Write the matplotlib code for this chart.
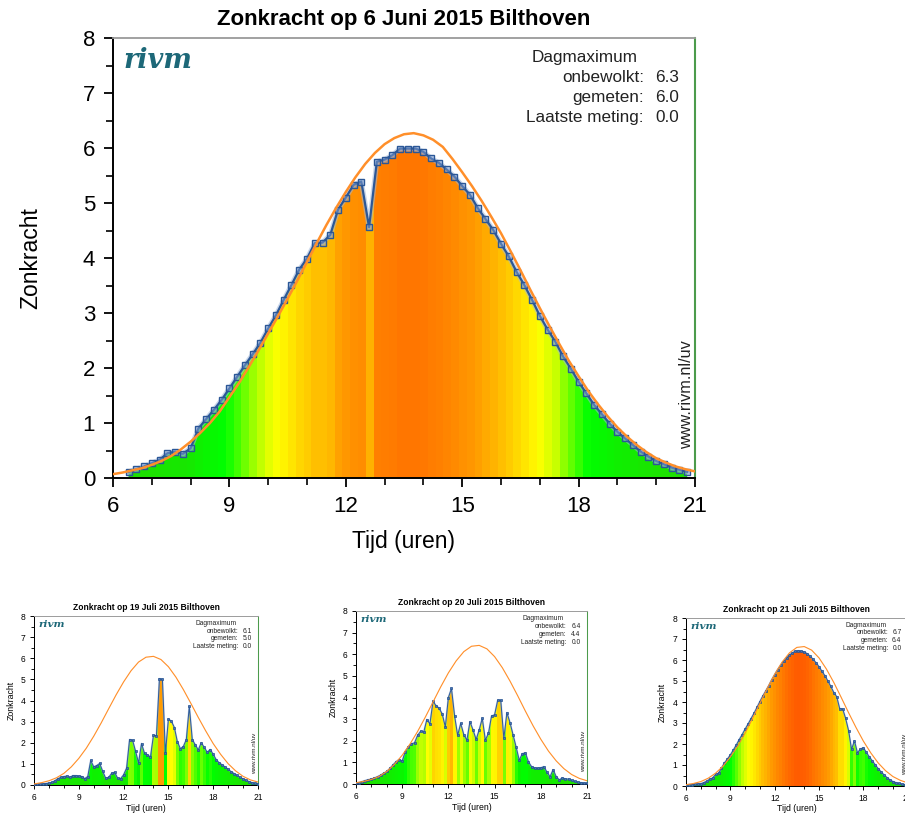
import numpy as np
import matplotlib
matplotlib.use("Agg")
import matplotlib.pyplot as plt
from matplotlib.colors import LinearSegmentedColormap
from matplotlib.ticker import MultipleLocator

plt.rcParams['font.family'] = ['Liberation Sans', 'DejaVu Sans']

# gemeten zonkracht, een meting per 12 minuten
juni6_tijd = np.round(np.arange(6.4, 20.81, 0.2), 2)
juni6_meting = [
    0.11, 0.16, 0.21, 0.27, 0.33, 0.45, 0.48, 0.44, 0.54, 0.90,
    1.07, 1.24, 1.42, 1.63, 1.84, 2.05, 2.25, 2.46, 2.72, 2.96,
    3.24, 3.51, 3.79, 3.99, 4.27, 4.28, 4.42, 4.88, 5.10, 5.33,
    5.39, 4.56, 5.75, 5.79, 5.87, 5.99, 5.99, 5.99, 5.93, 5.81,
    5.73, 5.61, 5.48, 5.31, 5.15, 4.91, 4.71, 4.51, 4.26, 4.03,
    3.75, 3.51, 3.24, 2.95, 2.70, 2.48, 2.21, 1.99, 1.75, 1.54,
    1.33, 1.16, 0.99, 0.84, 0.72, 0.60, 0.48, 0.39, 0.31, 0.25,
    0.19, 0.15, 0.11]

juli_tijd = np.round(np.arange(6.0, 21.01, 0.2), 2)
juli19_meting = [
    0.02, 0.03, 0.04, 0.05, 0.07, 0.09, 0.12, 0.20, 0.30, 0.36,
    0.40, 0.42, 0.36, 0.44, 0.44, 0.42, 0.40, 0.30, 0.40, 1.16,
    0.86, 0.92, 1.02, 0.65, 0.32, 0.36, 0.55, 0.60, 0.32, 0.30,
    0.48, 0.80, 2.15, 2.12, 1.60, 1.05, 1.96, 1.50, 1.42, 1.33,
    2.35, 2.34, 5.03, 5.00, 1.50, 3.12, 3.02, 2.72, 2.05, 1.72,
    1.82, 2.15, 3.72, 2.15, 1.90, 1.66, 2.00, 1.78, 1.55, 1.68,
    1.45, 1.20, 1.05, 0.95, 0.85, 0.74, 0.63, 0.54, 0.45, 0.36,
    0.29, 0.22, 0.16, 0.11, 0.08, 0.05]
juli20_meting = [
    0.03, 0.06, 0.11, 0.16, 0.20, 0.23, 0.28, 0.34, 0.41, 0.50,
    0.58, 0.72, 0.88, 1.03, 1.13, 1.06, 1.50, 1.72, 1.86, 1.90,
    2.25, 2.44, 2.40, 2.98, 2.78, 3.82, 3.62, 3.50, 3.24, 2.64,
    4.00, 4.42, 3.16, 2.25, 2.80, 2.28, 2.03, 2.88, 2.50, 2.06,
    2.50, 3.04, 2.03, 2.34, 3.14, 3.20, 3.87, 3.87, 2.11, 3.30,
    2.84, 2.27, 1.70, 1.10, 1.40, 1.44, 1.02, 0.80, 0.74, 0.73,
    0.75, 0.80, 0.55, 0.34, 0.66, 0.34, 0.19, 0.28, 0.23, 0.23,
    0.17, 0.12, 0.09, 0.06, 0.04, 0.03]
juli21_meting = [
    0.05, 0.06, 0.07, 0.08, 0.09, 0.11, 0.16, 0.23, 0.32, 0.38,
    0.55, 0.61, 0.85, 1.10, 1.28, 1.48, 1.71, 1.95, 2.21, 2.45,
    2.71, 2.95, 3.21, 3.46, 3.74, 4.02, 4.29, 4.53, 4.78, 5.06,
    5.30, 5.54, 5.74, 5.94, 6.10, 6.24, 6.34, 6.42, 6.44, 6.42,
    6.38, 6.30, 6.18, 6.03, 5.87, 5.68, 5.46, 5.25, 5.00, 4.74,
    4.45, 4.25, 3.68, 3.67, 3.22, 2.64, 1.75, 2.15, 1.58, 1.76,
    1.82, 1.60, 1.39, 1.20, 1.01, 0.83, 0.67, 0.53, 0.40, 0.29,
    0.21, 0.16, 0.12, 0.09, 0.07, 0.05]

# onbewolkte (clear sky) zonkracht
juni6_cs_tijd = np.arange(6.0, 21.01, 0.25)
juni6_cs = [
    0.07, 0.10, 0.14, 0.18, 0.24, 0.31, 0.40, 0.52, 0.66, 0.82,
    1.00, 1.21, 1.47, 1.73, 2.02, 2.32, 2.63, 2.94, 3.26, 3.59,
    3.93, 4.27, 4.60, 4.91, 5.20, 5.47, 5.71, 5.91, 6.07, 6.18,
    6.25, 6.27, 6.23, 6.15, 6.02, 5.80, 5.56, 5.31, 5.04, 4.75,
    4.45, 4.12, 3.78, 3.43, 3.09, 2.76, 2.44, 2.13, 1.85, 1.58,
    1.34, 1.12, 0.92, 0.75, 0.60, 0.47, 0.36, 0.28, 0.21, 0.16,
    0.12]
juli_cs_tijd = np.arange(6.0, 21.01, 0.5)
juli19_cs = [
    0.05, 0.11, 0.20, 0.34, 0.55, 0.86, 1.26, 1.74, 2.31, 2.94,
    3.61, 4.27, 4.88, 5.41, 5.82, 6.05, 6.09, 5.94, 5.60, 5.11,
    4.52, 3.87, 3.20, 2.56, 1.96, 1.45, 1.01, 0.67, 0.41, 0.24,
    0.14]
juli20_cs = [
    0.06, 0.12, 0.21, 0.35, 0.58, 0.91, 1.33, 1.84, 2.43, 3.09,
    3.79, 4.49, 5.14, 5.69, 6.12, 6.37, 6.41, 6.25, 5.89, 5.38,
    4.76, 4.08, 3.37, 2.69, 2.07, 1.52, 1.07, 0.71, 0.44, 0.26,
    0.15]
juli21_cs = [
    0.06, 0.12, 0.21, 0.37, 0.61, 0.94, 1.38, 1.90, 2.52, 3.21,
    3.93, 4.65, 5.32, 5.90, 6.34, 6.60, 6.64, 6.47, 6.10, 5.57,
    4.93, 4.22, 3.49, 2.79, 2.14, 1.58, 1.10, 0.73, 0.45, 0.27,
    0.15]

# dagmaximum: onbewolkt, gemeten, laatste meting
juni6_max = ["6.3", "6.0", "0.0"]
juli19_max = ["6.1", "5.0", "0.0"]
juli20_max = ["6.4", "4.4", "0.0"]
juli21_max = ["6.7", "6.4", "0.0"]

W, H = 905, 814

kleurschaal = LinearSegmentedColormap.from_list("uv", [
    (0.0 / 8, '#22dd00'), (1.5 / 8, '#00ff00'), (2.0 / 8, '#66ff00'),
    (2.5 / 8, '#ccff00'), (3.0 / 8, '#ffff00'), (3.5 / 8, '#ffe600'),
    (4.0 / 8, '#ffcc00'), (4.5 / 8, '#ffb400'), (5.0 / 8, '#ff9c00'),
    (5.5 / 8, '#ff8a00'), (6.0 / 8, '#ff7600'), (6.5 / 8, '#ff5a00'),
    (7.0 / 8, '#ff4000'), (8.0 / 8, '#ff0000')])


def px_axes(fig, x0, x1, y_top, y_bot):
    return fig.add_axes([x0 / W, 1 - y_bot / H, (x1 - x0) / W, (y_bot - y_top) / H])


def panel(ax, s, titel, tijd, meting, cs_tijd, cs, maxima, ylab_x, xlab_y, pads):
    meting = np.array(meting)
    stap = tijd[1] - tijd[0]

    # gekleurde stroken onder de meetlijn
    kleuren = kleurschaal(np.clip(meting, 0, 8) / 8)
    im = ax.imshow(kleuren[np.newaxis, :, :], origin='lower', aspect='auto',
                   interpolation='nearest', zorder=1,
                   extent=(tijd[0] - stap / 2, tijd[-1] + stap / 2, 0, 8))
    vlak = ax.fill_between(tijd, meting, color='none', lw=0)
    im.set_clip_path(vlak.get_paths()[0], transform=ax.transData)

    ax.plot(tijd, meting, color='#9fb6da', lw=3.6 * s, alpha=0.55, zorder=2)
    if s == 1.0:
        ax.plot(tijd, meting, color='#2b5797', lw=1.6, zorder=3,
                marker='s', ms=4.0, mec='#2b5797', mew=1.0,
                mfc=(0.55, 0.66, 0.85, 0.45))
    else:
        ax.plot(tijd, meting, color='#2f5d9e', lw=0.75, zorder=3,
                marker='s', ms=1.7, mec='#23508f', mew=0.5, mfc='#4a74b4')
    ax.plot(cs_tijd, cs, color='#ff8f2a', lw=1.6 * s + 0.2, zorder=4)

    ax.set_xlim(6, 21)
    ax.set_ylim(0, 8)
    ax.xaxis.set_major_locator(MultipleLocator(3))
    ax.xaxis.set_minor_locator(MultipleLocator(1))
    ax.yaxis.set_major_locator(MultipleLocator(1))
    ax.yaxis.set_minor_locator(MultipleLocator(0.5))
    ax.tick_params(which='major', direction='out', length=6 * s + 0.8,
                   width=1.0 * s + 0.3, labelsize=16 * s, pad=pads)
    ax.tick_params(which='minor', direction='out', length=4.5 * s + 0.6,
                   width=0.9 * s + 0.3)

    for kant in ['left', 'bottom']:
        ax.spines[kant].set_linewidth(1.1 * s + 0.3)
    ax.spines['top'].set_color('#9a9a9a')
    ax.spines['top'].set_linewidth(1.0 * s + 0.3)
    ax.spines['right'].set_color('#4c9b4c')
    ax.spines['right'].set_linewidth(1.2 * s + 0.3)

    ax.set_title(titel, fontsize=16 * s, fontweight='bold', pad=8 * s + 1)
    ax.set_ylabel("Zonkracht", fontsize=16.5 * s)
    ax.set_xlabel("Tijd (uren)", fontsize=16.5 * s)
    ax.yaxis.set_label_coords(ylab_x, 0.5)
    ax.xaxis.set_label_coords(0.5, xlab_y)

    ax.text(0.018, 0.948, "rivm", transform=ax.transAxes, color='#1d6878',
            family='DejaVu Serif', style='italic', fontweight='bold',
            fontsize=19.5 * s, va='center', ha='left')
    ax.text(0.985, 0.19, "www.rivm.nl/uv", transform=ax.transAxes,
            rotation=90, fontsize=11.7 * s, color='#222222',
            ha='center', va='center')

    fs = 12.3 * s
    ax.text(0.72, 0.955, "Dagmaximum", transform=ax.transAxes,
            fontsize=fs, ha='left', va='center', color='#222222')
    namen = ["onbewolkt:", "gemeten:", "Laatste meting:"]
    for k in range(3):
        y = 0.911 - 0.046 * k
        ax.text(0.912, y, namen[k], transform=ax.transAxes,
                fontsize=fs, ha='right', va='center', color='#222222')
        ax.text(0.972, y, maxima[k], transform=ax.transAxes,
                fontsize=fs, ha='right', va='center', color='#222222')


fig = plt.figure(figsize=(W / 100, H / 100), dpi=100)

hoofd = px_axes(fig, 113, 695, 38, 478)
panel(hoofd, 1.0, "Zonkracht op 6 Juni 2015 Bilthoven", juni6_tijd, juni6_meting,
      juni6_cs_tijd, juni6_cs, juni6_max, -0.122, -0.118, 6)

klein1 = px_axes(fig, 34, 258, 616, 785)
panel(klein1, 0.385, "Zonkracht op 19 Juli 2015 Bilthoven", juli_tijd, juli19_meting,
      juli_cs_tijd, juli19_cs, juli19_max, -0.082, -0.11, 3)

klein2 = px_axes(fig, 356, 587, 611, 784)
panel(klein2, 0.385, "Zonkracht op 20 Juli 2015 Bilthoven", juli_tijd, juli20_meting,
      juli_cs_tijd, juli20_cs, juli20_max, -0.078, -0.11, 3)

# het derde paneel loopt net buiten de rechterrand, zoals in het origineel
klein3 = px_axes(fig, 686, 907.7, 618, 786)
panel(klein3, 0.385, "Zonkracht op 21 Juli 2015 Bilthoven", juli_tijd, juli21_meting,
      juli_cs_tijd, juli21_cs, juli21_max, -0.087, -0.11, 3)

fig.savefig("out.png", dpi=100)
